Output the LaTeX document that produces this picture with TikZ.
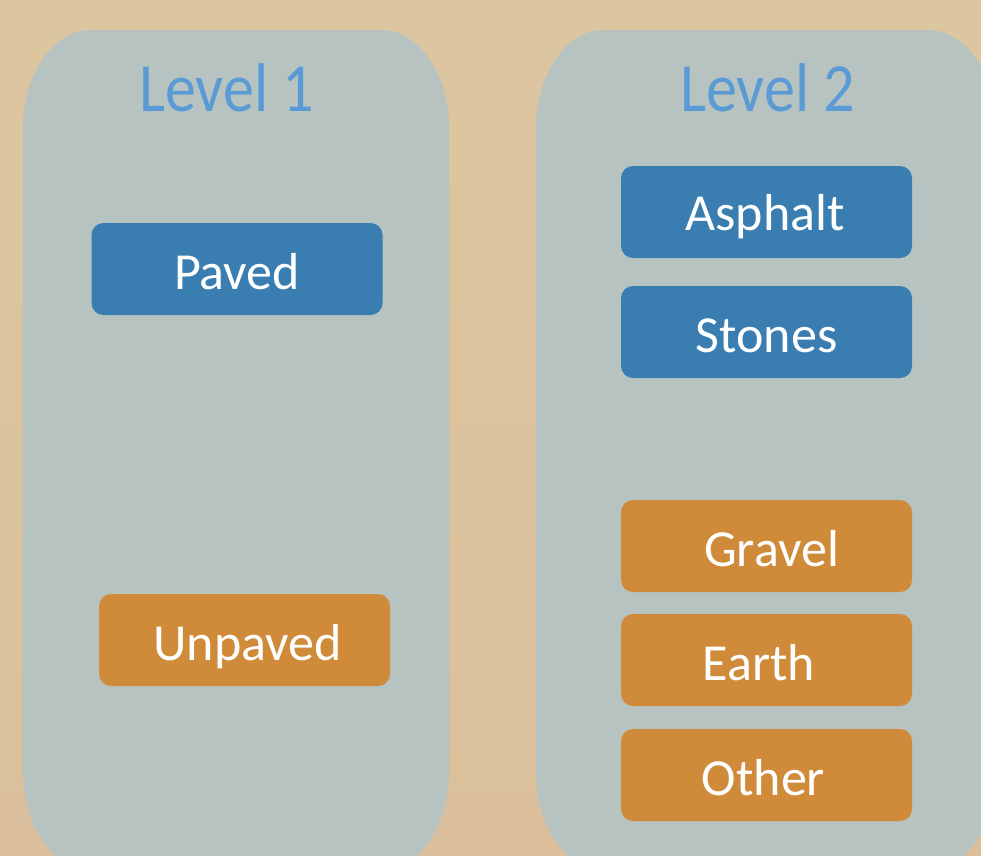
\documentclass[tikz,border=0pt]{standalone}
\usepackage{fontspec}
\setmainfont{Carlito}
\usetikzlibrary{positioning}

\definecolor{bgtop}{HTML}{DCC6A0}
\definecolor{bgbot}{HTML}{DBBF9C}
\definecolor{panel}{HTML}{B7C3C0}
\definecolor{pavedblue}{HTML}{3A7DB0}
\definecolor{unpavedorange}{HTML}{D08B3A}
\definecolor{headblue}{HTML}{5B9BD5}

\tikzset{
  catbox/.style={rectangle, rounded corners=12pt, minimum width=291pt,
    minimum height=92pt, inner sep=0pt, text=white,
    font=\fontsize{52}{52}\selectfont, text height=40pt, text depth=0pt},
  paved/.style={catbox, fill=pavedblue},
  unpaved/.style={catbox, fill=unpavedorange},
  heading/.style={inner sep=0pt, anchor=base, text=headblue,
    font=\fontsize{69}{69}\selectfont},
}

% column panel with elliptical corners (y axis points down):
% #1,#2 = left/right, #3,#4 = top/bottom
\newcommand{\levelpanel}[4]{%
  \fill[panel] (#1+68,#3) -- (#2-68,#3)
    arc[start angle=-90, end angle=0, x radius=68, y radius=98]
    -- (#2,#4-98)
    arc[start angle=0, end angle=90, x radius=68, y radius=98]
    -- (#1+68,#4)
    arc[start angle=90, end angle=180, x radius=68, y radius=98]
    -- (#1,#3+98)
    arc[start angle=180, end angle=270, x radius=68, y radius=98] -- cycle;}

\begin{document}
\begin{tikzpicture}[x=1pt, y=-1pt]
  \useasboundingbox (0,0) rectangle (981,855);
  \clip (0,0) rectangle (981,855);
  \shade[top color=bgtop, bottom color=bgbot] (0,0) rectangle (981,855);

  \levelpanel{23}{449}{30}{870}
  \levelpanel{536}{996}{30}{870}

  % headings
  \node[heading] (lvl1) at (226.5,111) {\scalebox{0.9}[1]{Level 1}};
  \node[heading] (lvl2) at (767.5,111) {\scalebox{0.9}[1]{Level 2}};

  % level 1 categories
  \node[paved]   (paved)   at (237,269)   {Paved};
  \node[unpaved] (unpaved) at (244.5,640) {\hspace*{6pt}Unpaved};

  % level 2 categories
  \node[paved, text height=36pt] (asphalt) at (766.5,212) {Asphalt\hspace*{3pt}};
  \node[paved]   (stones)  at (766.5,332) {Stones};
  \node[unpaved] (gravel)  at (766.5,546) {\hspace*{10pt}Gravel};
  \node[unpaved] (earth)   at (766.5,660) {Earth\hspace*{15pt}};
  \node[unpaved] (other)   at (766.5,775) {Other\hspace*{6pt}};
\end{tikzpicture}
\end{document}
